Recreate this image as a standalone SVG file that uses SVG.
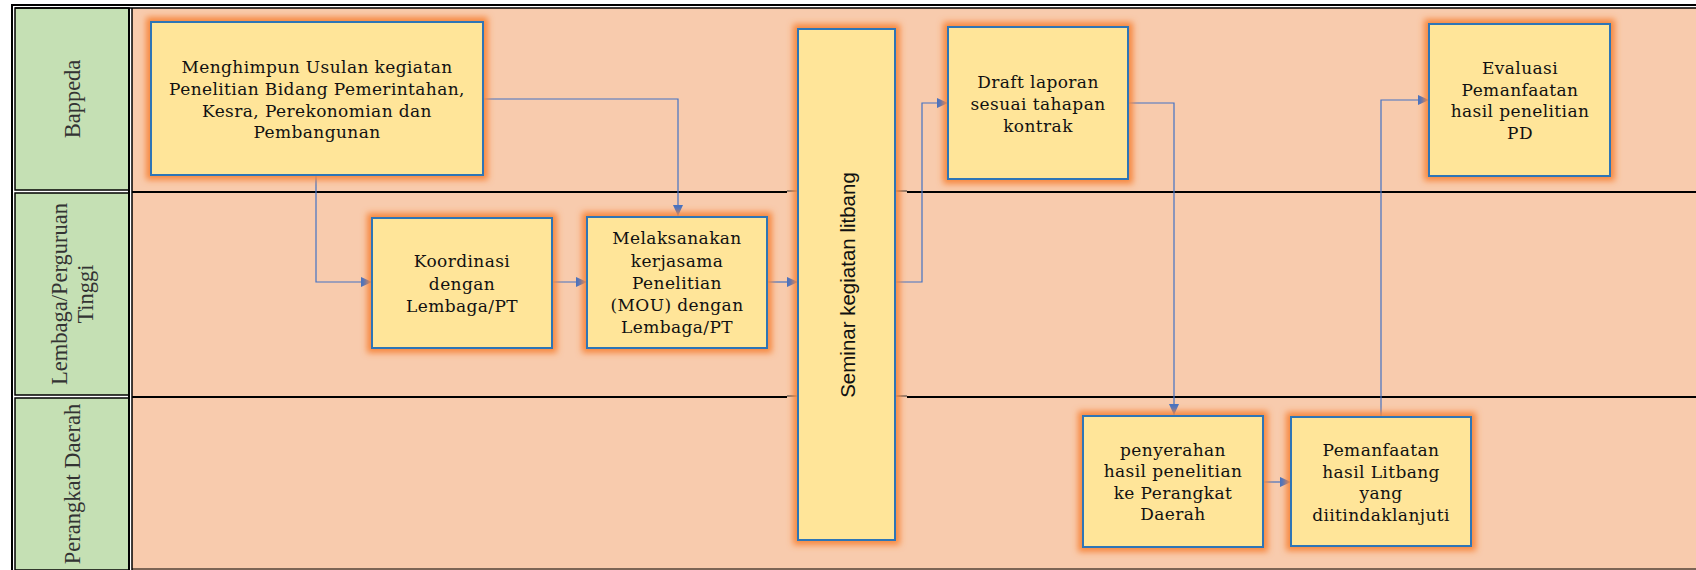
<svg xmlns="http://www.w3.org/2000/svg" width="1696" height="570" viewBox="0 0 1696 570">
<defs>
<filter id="glow" x="-20%" y="-20%" width="140%" height="140%">
<feMorphology in="SourceAlpha" operator="dilate" radius="4" result="d"/>
<feGaussianBlur in="d" stdDeviation="3" result="b"/>
<feFlood flood-color="#F7883F" flood-opacity="1"/>
<feComposite in2="b" operator="in" result="g"/>
<feMerge><feMergeNode in="g"/><feMergeNode in="SourceGraphic"/></feMerge>
</filter>
<marker id="arr" markerWidth="11" markerHeight="10" refX="11" refY="5" orient="auto" markerUnits="userSpaceOnUse">
<path d="M0,0 L11,5 L0,10 Z" fill="#4472C4"/>
</marker>
<style>
.box{fill:#FFE599;stroke:#2E75B6;stroke-width:2;filter:url(#glow)}
.t{font-family:"DejaVu Serif",serif;font-size:17px;letter-spacing:0.4px;fill:#111;text-anchor:middle}
.lane{font-family:"Liberation Serif",serif;font-size:22.5px;fill:#333;text-anchor:middle}
.sem{font-family:"Liberation Sans",Arial,sans-serif;font-size:20.5px;fill:#111;text-anchor:middle}
.con{fill:none;stroke:#4472C4;stroke-width:1.2}
.sep{stroke:#000;stroke-width:2.2}
.thin{stroke:#333;stroke-width:1}
</style>
</defs>
<rect width="1696" height="570" fill="#FFFFFF"/>
<g id="frame">
<rect x="132" y="8" width="1564" height="562" fill="#F8CBAD"/>
<rect x="15" y="8" width="114" height="182" fill="#C5E0B4" stroke="#000" stroke-width="1.5"/>
<rect x="15" y="193" width="114" height="202" fill="#C5E0B4" stroke="#000" stroke-width="1.5"/>
<rect x="15" y="398" width="114" height="172" fill="#C5E0B4" stroke="#000" stroke-width="1.5"/>
<line x1="11" y1="5" x2="1696" y2="5" stroke="#000" stroke-width="2"/>
<line x1="15" y1="8" x2="1696" y2="8" stroke="#000" stroke-width="1.5"/>
<line x1="12" y1="4" x2="12" y2="570" stroke="#000" stroke-width="2"/>
<line x1="129" y1="8" x2="129" y2="570" stroke="#000" stroke-width="2"/>
<line x1="132" y1="8" x2="132" y2="570" stroke="#000" stroke-width="1.5"/>
<line class="sep" x1="132" y1="192" x2="787" y2="192"/>
<line class="sep" x1="907" y1="192" x2="1696" y2="192"/>
<line class="thin" x1="787" y1="191" x2="907" y2="191"/>
<line class="sep" x1="132" y1="397" x2="787" y2="397"/>
<line class="sep" x1="907" y1="397" x2="1696" y2="397"/>
<line class="thin" x1="787" y1="396" x2="907" y2="396"/>
<line x1="132" y1="569" x2="1696" y2="569" stroke="#000" stroke-width="1.2"/>
</g>
<g id="lane-labels">
<text class="lane" transform="translate(80,99) rotate(-90)">Bappeda</text>
<text class="lane" transform="translate(67,294) rotate(-90)">Lembaga/Perguruan</text>
<text class="lane" transform="translate(93,294) rotate(-90)">Tinggi</text>
<text class="lane" transform="translate(80,484) rotate(-90)">Perangkat Daerah</text>
</g>
<g id="connectors">
<polyline class="con" points="483,99 678,99 678,216" marker-end="url(#arr)"/>
<polyline class="con" points="316,175 316,282 372,282" marker-end="url(#arr)"/>
<polyline class="con" points="552,282 587,282" marker-end="url(#arr)"/>
<polyline class="con" points="767,282 798,282" marker-end="url(#arr)"/>
<polyline class="con" points="895,282 922,282 922,103 948,103" marker-end="url(#arr)"/>
<polyline class="con" points="1128,103 1174,103 1174,415" marker-end="url(#arr)"/>
<polyline class="con" points="1263,482 1291,482" marker-end="url(#arr)"/>
<polyline class="con" points="1381,417 1381,100 1429,100" marker-end="url(#arr)"/>
</g>
<g id="n1">
<rect class="box" x="151" y="22" width="332" height="153"/>
<text class="t" x="317" y="73">Menghimpun Usulan kegiatan</text>
<text class="t" x="317" y="95">Penelitian Bidang Pemerintahan,</text>
<text class="t" x="317" y="117">Kesra, Perekonomian dan</text>
<text class="t" x="317" y="138">Pembangunan</text>
</g>
<g id="n2">
<rect class="box" x="372" y="218" width="180" height="130"/>
<text class="t" x="462" y="267">Koordinasi</text>
<text class="t" x="462" y="290">dengan</text>
<text class="t" x="462" y="312">Lembaga/PT</text>
</g>
<g id="n3">
<rect class="box" x="587" y="217" width="180" height="131"/>
<text class="t" x="677" y="244">Melaksanakan</text>
<text class="t" x="677" y="267">kerjasama</text>
<text class="t" x="677" y="289">Penelitian</text>
<text class="t" x="677" y="311">(MOU) dengan</text>
<text class="t" x="677" y="333">Lembaga/PT</text>
</g>
<g id="n4">
<rect class="box" x="798" y="29" width="97" height="511"/>
<text class="sem" transform="translate(855,285) rotate(-90)">Seminar kegiatan litbang</text>
</g>
<g id="n5">
<rect class="box" x="948" y="27" width="180" height="152"/>
<text class="t" x="1038" y="88">Draft laporan</text>
<text class="t" x="1038" y="110">sesuai tahapan</text>
<text class="t" x="1038" y="132">kontrak</text>
</g>
<g id="n6">
<rect class="box" x="1429" y="24" width="181" height="152"/>
<text class="t" x="1520" y="74">Evaluasi</text>
<text class="t" x="1520" y="96">Pemanfaatan</text>
<text class="t" x="1520" y="117">hasil penelitian</text>
<text class="t" x="1520" y="139">PD</text>
</g>
<g id="n7">
<rect class="box" x="1083" y="416" width="180" height="131"/>
<text class="t" x="1173" y="456">penyerahan</text>
<text class="t" x="1173" y="477">hasil penelitian</text>
<text class="t" x="1173" y="499">ke Perangkat</text>
<text class="t" x="1173" y="520">Daerah</text>
</g>
<g id="n8">
<rect class="box" x="1291" y="417" width="180" height="129"/>
<text class="t" x="1381" y="456">Pemanfaatan</text>
<text class="t" x="1381" y="478">hasil Litbang</text>
<text class="t" x="1381" y="499">yang</text>
<text class="t" x="1381" y="521">diitindaklanjuti</text>
</g>
</svg>
